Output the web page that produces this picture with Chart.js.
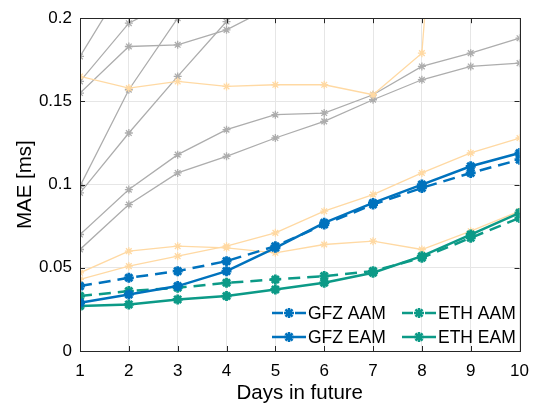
<!DOCTYPE html>
<html>
<head>
<meta charset="utf-8">
<script src="https://cdn.jsdelivr.net/npm/chart.js@4"></script>
<style>
  html, body { margin: 0; padding: 0; background: #fff; }
  #wrap { width: 539px; height: 406px; }
</style>
</head>
<body>
<div id="wrap"><canvas id="maeChart" width="539" height="406"></canvas></div>
<script>
/* ====== DATA ====== */
var days = [1, 2, 3, 4, 5, 6, 7, 8, 9, 10];
var yTickLabels = ["0", "0.05", "0.1", "0.15", "0.2"];

var gfzAAM = [0.039, 0.044, 0.048, 0.054, 0.063, 0.076, 0.088, 0.098, 0.107, 0.115];
var gfzEAM = [0.029, 0.034, 0.039, 0.048, 0.062, 0.077, 0.089, 0.100, 0.111, 0.119];
var ethAAM = [0.033, 0.036, 0.038, 0.041, 0.043, 0.045, 0.048, 0.056, 0.068, 0.080];
var ethEAM = [0.027, 0.028, 0.031, 0.033, 0.037, 0.041, 0.047, 0.057, 0.070, 0.083];

// other models, grey
var grayA = [0.177, 0.225, 0.27, 0.31, 0.34, 0.37, 0.40, 0.42, 0.44, 0.46];
var grayB = [0.162, 0.197, 0.212, 0.23, 0.25, 0.27, 0.29, 0.31, 0.33, 0.35];
var grayC = [0.155, 0.183, 0.184, 0.193, 0.208, 0.22, 0.23, 0.24, 0.25, 0.26];
var grayD = [0.099, 0.157, 0.200, 0.24, 0.27, 0.30, 0.32, 0.34, 0.36, 0.38];
var grayG = [0.095, 0.131, 0.165, 0.198, 0.23, 0.25, 0.27, 0.29, 0.31, 0.33];
var grayE = [0.070, 0.097, 0.118, 0.133, 0.142, 0.143, 0.154, 0.171, 0.179, 0.188];
var grayF = [0.061, 0.088, 0.107, 0.117, 0.128, 0.138, 0.151, 0.163, 0.171, 0.173];

// other models, light orange
var orangeA = [0.165, 0.158, 0.162, 0.159, 0.160, 0.160, 0.154, 0.179, 0.56, 0.60];
var orangeB = [0.047, 0.060, 0.063, 0.062, 0.059, 0.064, 0.066, 0.061, 0.072, 0.084];
var orangeC = [0.043, 0.051, 0.057, 0.063, 0.071, 0.084, 0.094, 0.107, 0.119, 0.128];

/* ====== STYLE ====== */
var BLUE = "#0072BD";
var TEAL = "#0C9A87";
var GREY = "#ADADAD";
var ORANGE = "#FFD9A3";
var FONT = "'Liberation Sans', Arial, Helvetica, sans-serif";

function pts(arr) {
    return arr.map(function (v, i) { return { x: days[i], y: v }; });
}

function bgLine(arr, color, order) {
    return {
        data: pts(arr), borderColor: color, backgroundColor: color,
        borderWidth: 1.3, pointStyle: "star", pointRadius: 4, pointBorderWidth: 1.3,
        pointBorderColor: color, fill: false, tension: 0, order: order
    };
}

function mainLine(label, arr, color, dashed, order) {
    return {
        label: label, data: pts(arr), borderColor: color, backgroundColor: color,
        borderWidth: 2.5, borderDash: dashed ? [12, 7] : [],
        pointStyle: "star", pointRadius: 5, pointBorderWidth: 2.8,
        pointBorderColor: color, fill: false, tension: 0, order: order
    };
}

var datasets = [
    bgLine(grayA, GREY, 20), bgLine(grayB, GREY, 20), bgLine(grayC, GREY, 20),
    bgLine(grayD, GREY, 20), bgLine(grayG, GREY, 20), bgLine(grayE, GREY, 20),
    bgLine(grayF, GREY, 20),
    bgLine(orangeA, ORANGE, 15), bgLine(orangeB, ORANGE, 15), bgLine(orangeC, ORANGE, 15),
    mainLine("GFZ AAM", gfzAAM, BLUE, true, 2),
    mainLine("GFZ EAM", gfzEAM, BLUE, false, 1),
    mainLine("ETH AAM", ethAAM, TEAL, true, 4),
    mainLine("ETH EAM", ethEAM, TEAL, false, 3)
];

/* ====== PLUGINS ====== */
// box + inward ticks (matlab style)
var boxPlugin = {
    id: "boxTicks",
    afterDatasetsDraw: function (chart) {
        var ctx = chart.ctx, a = chart.chartArea;
        var xs = chart.scales.x, ys = chart.scales.y;
        ctx.save();
        ctx.strokeStyle = "#262626";
        ctx.lineWidth = 1;
        ctx.beginPath();
        xs.ticks.forEach(function (t) {
            var px = Math.round(xs.getPixelForValue(t.value)) + 0.5;
            ctx.moveTo(px, a.bottom); ctx.lineTo(px, a.bottom - 5);
            ctx.moveTo(px, a.top); ctx.lineTo(px, a.top + 5);
        });
        ys.ticks.forEach(function (t) {
            var py = Math.round(ys.getPixelForValue(t.value)) + 0.5;
            ctx.moveTo(a.left, py); ctx.lineTo(a.left + 5, py);
            ctx.moveTo(a.right, py); ctx.lineTo(a.right - 5, py);
        });
        ctx.stroke();
        ctx.strokeRect(Math.round(a.left) + 0.5, Math.round(a.top) + 0.5,
            Math.round(a.right - a.left), Math.round(a.bottom - a.top));
        ctx.restore();
    }
};

// legend inside the plot, 2 columns, no box
var legendPlugin = {
    id: "innerLegend",
    afterDraw: function (chart) {
        var ctx = chart.ctx, a = chart.chartArea;
        var items = ["GFZ AAM", "ETH AAM", "GFZ EAM", "ETH EAM"];
        var cols = [a.left + 192, a.left + 322];
        var rows = [a.bottom - 38, a.bottom - 14];
        ctx.save();
        items.forEach(function (name, i) {
            var ds = chart.data.datasets.find(function (d) { return d.label === name; });
            var x0 = cols[i % 2], y = rows[Math.floor(i / 2)];
            ctx.strokeStyle = ds.borderColor;
            ctx.lineWidth = ds.borderWidth;
            if (ds.borderDash.length) {
                // short dash - marker - short dash, like the reference
                ctx.beginPath();
                ctx.moveTo(x0, y); ctx.lineTo(x0 + 11, y);
                ctx.moveTo(x0 + 23, y); ctx.lineTo(x0 + 34, y);
                ctx.stroke();
            } else {
                ctx.beginPath();
                ctx.moveTo(x0, y); ctx.lineTo(x0 + 34, y);
                ctx.stroke();
            }
            Chart.helpers.drawPoint(ctx, {
                pointStyle: "star", radius: 5, borderWidth: 2.8, rotation: 0
            }, x0 + 17, y);
            ctx.fillStyle = "#000";
            ctx.font = "17.5px " + FONT;
            ctx.textBaseline = "middle";
            ctx.textAlign = "left";
            ctx.fillText(name, x0 + 36, y + 1);
        });
        ctx.restore();
    }
};

/* ====== CHART ====== */
var ctx = document.getElementById("maeChart").getContext("2d");
var chart = new Chart(ctx, {
    type: "line",
    data: { datasets: datasets },
    plugins: [boxPlugin, legendPlugin],
    options: {
        responsive: false,
        animation: false,
        layout: { padding: { top: 18, right: 10, left: 0, bottom: 0 } },
        plugins: { legend: { display: false }, tooltip: { enabled: false } },
        scales: {
            x: {
                type: "linear", min: 1, max: 10,
                afterFit: function (s) { s.height = 55; },
                border: { display: false },
                grid: { color: "#E6E6E6", drawTicks: false },
                ticks: {
                    stepSize: 1, padding: 10, color: "#000", maxRotation: 0,
                    font: { family: FONT, size: 17 }
                },
                title: {
                    display: true, text: "Days in future", color: "#000",
                    font: { family: FONT, size: 20.5 }, padding: { top: 0, bottom: 0 }
                }
            },
            y: {
                min: 0, max: 0.2,
                afterFit: function (s) { s.width = 80; },
                border: { display: false },
                grid: { color: "#E6E6E6", drawTicks: false },
                ticks: {
                    stepSize: 0.05, padding: 8, color: "#000",
                    font: { family: FONT, size: 17 },
                    callback: function (v, i) { return yTickLabels[i]; }
                },
                title: {
                    display: true, text: "MAE [ms]", color: "#000",
                    font: { family: FONT, size: 20.5 }, padding: { top: 13, bottom: 0 }
                }
            }
        }
    }
});
</script>
</body>
</html>
